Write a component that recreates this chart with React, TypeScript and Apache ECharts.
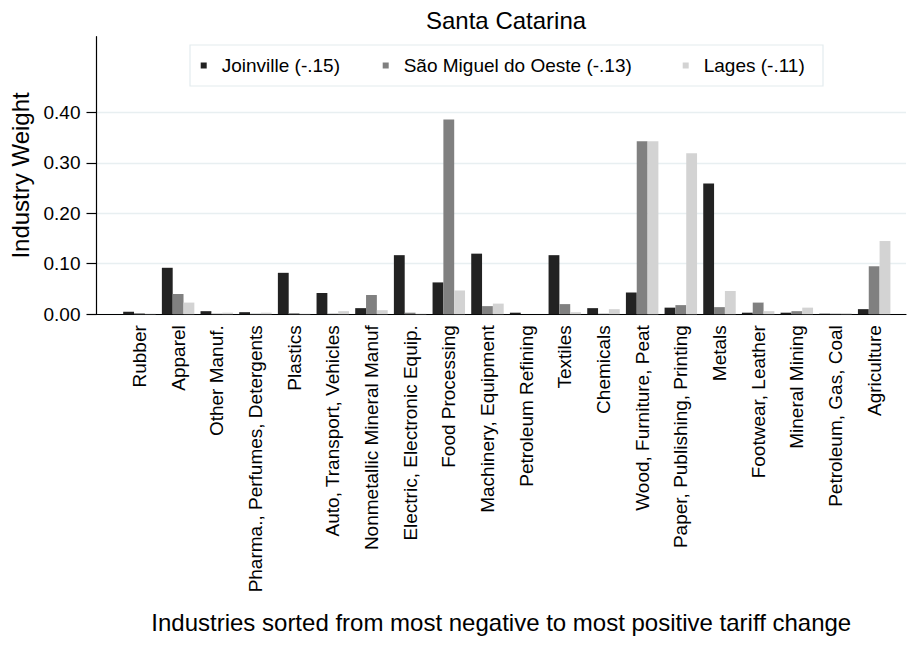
import React, { useEffect, useRef } from "react";
import * as echarts from "echarts";

// Industries, ordered from most negative to most positive tariff change
const categories = [
  "Rubber",
  "Apparel",
  "Other Manuf.",
  "Pharma., Perfumes, Detergents",
  "Plastics",
  "Auto, Transport, Vehicles",
  "Nonmetallic Mineral Manuf",
  "Electric, Electronic Equip.",
  "Food Processing",
  "Machinery, Equipment",
  "Petroleum Refining",
  "Textiles",
  "Chemicals",
  "Wood, Furniture, Peat",
  "Paper, Publishing, Printing",
  "Metals",
  "Footwear, Leather",
  "Mineral Mining",
  "Petroleum, Gas, Coal",
  "Agriculture",
];

// Industry weights per microregion
const joinville = [
  0.005, 0.092, 0.006, 0.004, 0.082, 0.042, 0.012, 0.117, 0.063, 0.12,
  0.003, 0.117, 0.012, 0.043, 0.013, 0.259, 0.003, 0.003, 0.001, 0.01,
];
const saoMiguel = [
  0.002, 0.04, 0.001, 0.001, 0.002, 0.001, 0.038, 0.003, 0.386, 0.016,
  0.0, 0.02, 0.001, 0.343, 0.018, 0.014, 0.023, 0.006, 0.001, 0.095,
];
const lages = [
  0.001, 0.023, 0.003, 0.003, 0.001, 0.006, 0.008, 0.001, 0.047, 0.021,
  0.0, 0.004, 0.01, 0.343, 0.319, 0.046, 0.006, 0.013, 0.002, 0.145,
];

const seriesNames = [
  "Joinville (-.15)",
  "São Miguel do Oeste (-.13)",
  "Lages (-.11)",
];
const seriesColors = ["#222222", "#808080", "#d3d3d3"];
const yTicks = [0, 0.1, 0.2, 0.3, 0.4];

const FONT = "'Liberation Sans', Arial, Helvetica, sans-serif";

export default function App() {
  const ref = useRef<HTMLDivElement>(null);

  useEffect(() => {
    if (!ref.current) return;
    const chart = echarts.init(ref.current, null, { renderer: "svg" });

    const seriesData = [joinville, saoMiguel, lages];
    const legendLefts = [200.7, 382.7, 682.7];

    chart.setOption({
      animation: false,
      backgroundColor: "#ffffff",
      textStyle: { fontFamily: FONT, color: "#000" },
      title: {
        text: "Santa Catarina",
        left: 426,
        top: 8,
        padding: 0,
        textStyle: {
          fontFamily: FONT,
          fontSize: 24,
          fontWeight: "normal",
          color: "#000",
        },
      },
      graphic: [
        {
          type: "rect",
          z: 0,
          shape: { x: 190, y: 45, width: 633, height: 41 },
          style: { fill: "#ffffff", stroke: "#e3ecee", lineWidth: 1.2 },
        },
      ],
      legend: seriesNames.map((name, i) => ({
        data: [name],
        left: legendLefts[i],
        top: 56,
        padding: 0,
        icon: "rect",
        itemWidth: 6,
        itemHeight: 6,
        selectedMode: false,
        textStyle: {
          fontFamily: FONT,
          fontSize: 19,
          color: "#000",
          padding: [0, 0, 0, 10],
        },
      })),
      grid: [
        { left: 96.5, right: 4, top: 36.7, bottom: 333.8 },
        { left: 120.1, right: 16.5, top: 36.7, bottom: 333.8 },
      ],
      xAxis: [
        {
          type: "value",
          gridIndex: 0,
          min: 0,
          max: 1,
          axisLine: { show: true, lineStyle: { color: "#000", width: 1.2 } },
          axisTick: { show: false },
          axisLabel: { show: false },
          splitLine: { show: false },
          name: "Industries sorted from most negative to most positive tariff change",
          nameLocation: "middle",
          nameGap: 296,
          nameTextStyle: { fontFamily: FONT, fontSize: 24, color: "#000" },
        },
        {
          type: "category",
          gridIndex: 1,
          data: categories,
          axisLine: { show: false },
          axisTick: { show: false },
          axisLabel: {
            interval: 0,
            rotate: 90,
            margin: 11,
            fontFamily: FONT,
            fontSize: 19,
            color: "#000",
          },
        },
      ],
      yAxis: [
        {
          type: "value",
          gridIndex: 0,
          min: 0,
          max: 0.55,
          axisLine: { show: true, lineStyle: { color: "#000", width: 1.2 } },
          axisTick: {
            show: true,
            length: 10,
            customValues: yTicks,
            lineStyle: { color: "#000", width: 1.2 },
          },
          axisLabel: {
            customValues: yTicks,
            margin: 16,
            fontFamily: FONT,
            fontSize: 19,
            color: "#000",
            formatter: (v: number) => v.toFixed(2),
          },
          splitLine: {
            show: true,
            lineStyle: { color: "#e8eff1", width: 1.4 },
          },
          name: "Industry Weight",
          nameLocation: "middle",
          nameGap: 64,
          nameTextStyle: { fontFamily: FONT, fontSize: 24, color: "#000" },
        },
        {
          type: "value",
          gridIndex: 1,
          min: 0,
          max: 0.55,
          show: false,
          splitLine: { show: false },
        },
      ],
      series: seriesNames.map((name, i) => ({
        type: "bar",
        name,
        xAxisIndex: 1,
        yAxisIndex: 1,
        data: seriesData[i],
        barGap: "0%",
        barCategoryGap: "16%",
        itemStyle: { color: seriesColors[i] },
        emphasis: { disabled: true },
      })),
    });

    return () => chart.dispose();
  }, []);

  return (
    <div
      ref={ref}
      style={{ position: "absolute", left: 0, top: 0, width: 910, height: 648 }}
    />
  );
}
